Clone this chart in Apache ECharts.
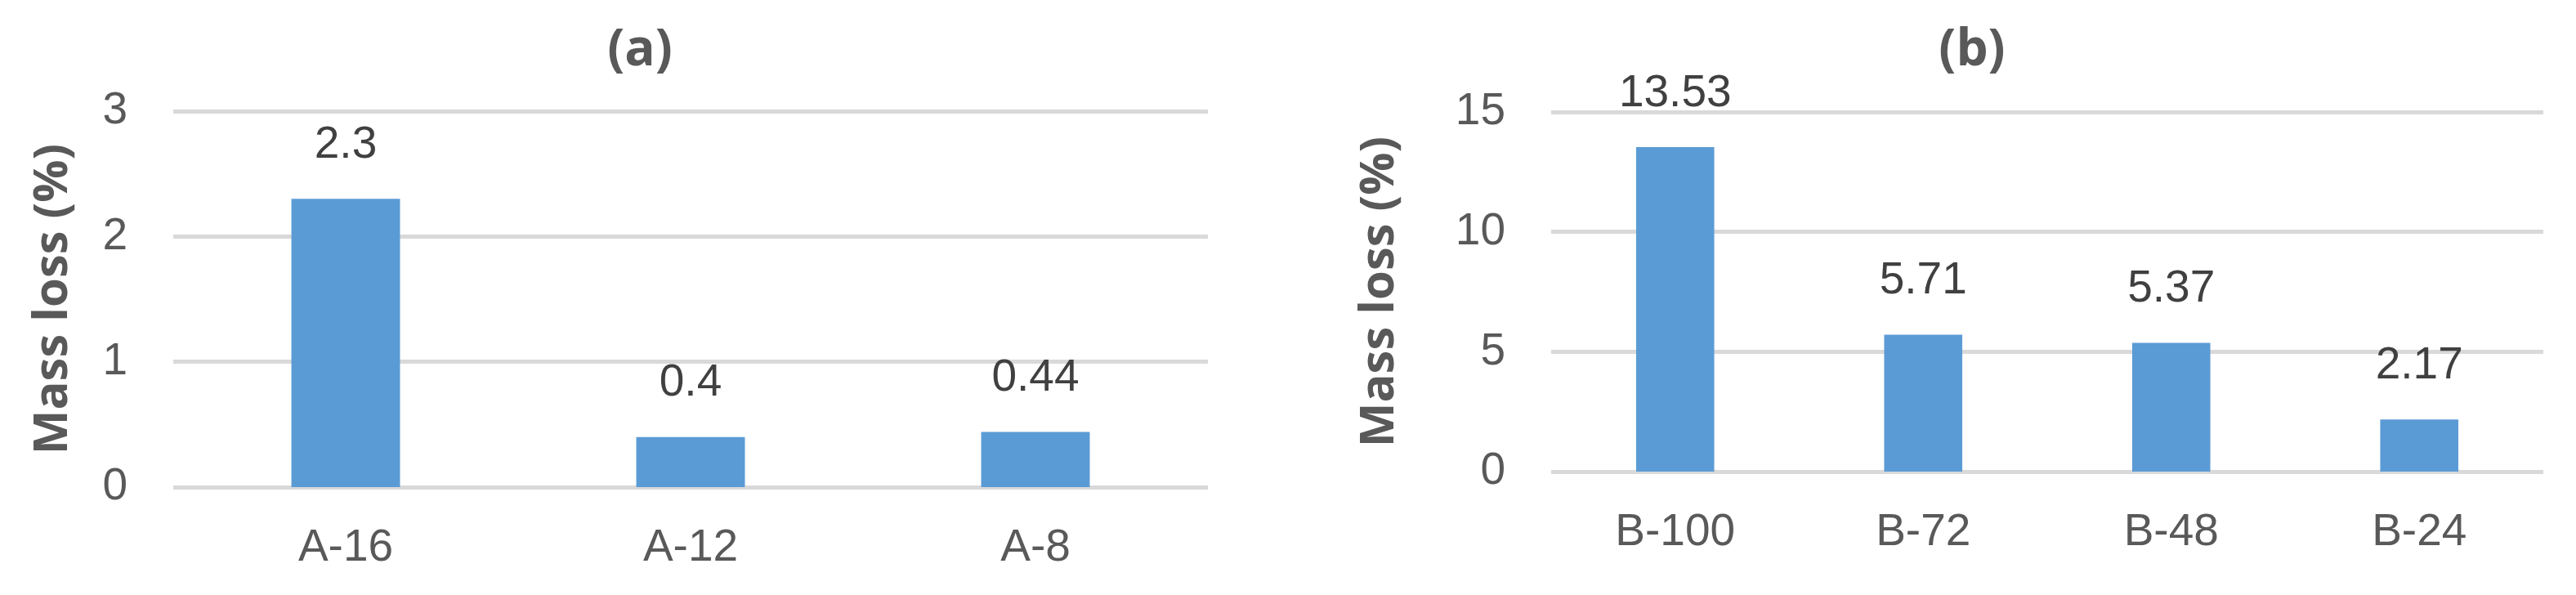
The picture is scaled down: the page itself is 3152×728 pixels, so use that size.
<!DOCTYPE html>
<html>
<head>
<meta charset="utf-8">
<script src="https://cdn.jsdelivr.net/npm/echarts@6/dist/echarts.min.js"></script>
<style>
html,body{margin:0;padding:0;background:#fff;}
#c{width:3152px;height:728px;}
</style>
</head>
<body>
<div id="c"></div>
<script>
// Panel (a)
const catsA = ['A-16', 'A-12', 'A-8'];
const valsA = [2.3, 0.4, 0.44];
const labelsA = ['2.3', '0.4', '0.44'];
// Panel (b)
const catsB = ['B-100', 'B-72', 'B-48', 'B-24'];
const valsB = [13.53, 5.71, 5.37, 2.17];
const labelsB = ['13.53', '5.71', '5.37', '2.17'];
const titleA = '(a)';
const titleB = '(b)';
const yName = 'Mass loss (%)';

const FONT = '"Liberation Sans Narrow", "Liberation Sans", sans-serif';
const BOLD = '"Open Sans", "DejaVu Sans", sans-serif';
const TXT = '#595959';
const BAR = '#5B9BD5';
const GRID = '#D9D9D9';

function xAxis(idx, cats) {
  return {
    type: 'category', gridIndex: idx, data: cats,
    axisLine: {show: false}, axisTick: {show: false},
    axisLabel: {color: TXT, fontFamily: FONT, fontSize: 55, margin: 47}
  };
}
function yAxis(idx, max, interval, gap) {
  return {
    type: 'value', gridIndex: idx, min: 0, max: max, interval: interval,
    name: yName, nameLocation: 'middle', nameGap: gap,
    nameTextStyle: {color: TXT, fontFamily: BOLD, fontWeight: 'bold', fontSize: 58},
    axisLine: {show: false}, axisTick: {show: false},
    axisLabel: {color: TXT, fontFamily: FONT, fontSize: 55, margin: 56},
    splitLine: {show: true, lineStyle: {color: GRID, width: 5}}
  };
}
function barSeries(idx, vals, labels) {
  return {
    type: 'bar', xAxisIndex: idx, yAxisIndex: idx, data: vals,
    barWidth: '31.5%',
    itemStyle: {color: BAR},
    label: {show: true, position: 'top', distance: 38, color: '#404040', fontFamily: FONT, fontSize: 55,
      formatter: p => labels[p.dataIndex]}
  };
}

const chart = echarts.init(document.getElementById('c'));
chart.setOption({
  animation: false,
  backgroundColor: '#fff',
  title: [
    {text: titleA, left: 778, top: 26, textAlign: 'center',
     textStyle: {color: TXT, fontFamily: BOLD, fontWeight: 'bold', fontSize: 62}},
    {text: titleB, left: 2408, top: 26, textAlign: 'center',
     textStyle: {color: TXT, fontFamily: BOLD, fontWeight: 'bold', fontSize: 62}}
  ],
  grid: [
    {left: 212, right: 3152 - 1478, top: 136, bottom: 728 - 596},
    {left: 1898, right: 3152 - 3112, top: 137, bottom: 728 - 577}
  ],
  xAxis: [xAxis(0, catsA), xAxis(1, catsB)],
  yAxis: [yAxis(0, 3, 1, 118), yAxis(1, 15, 5, 181)],
  series: [barSeries(0, valsA, labelsA), barSeries(1, valsB, labelsB)]
});
</script>
</body>
</html>
